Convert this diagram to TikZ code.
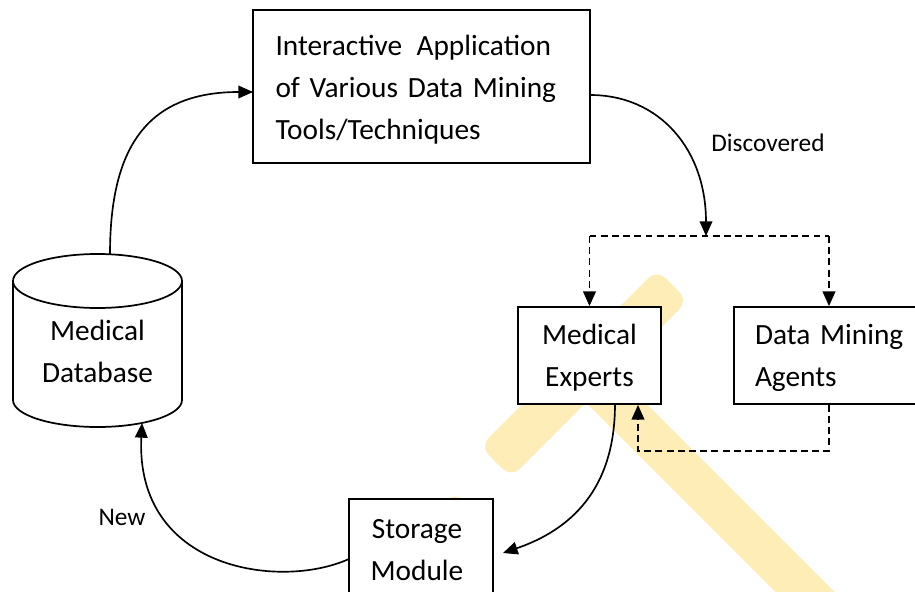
\documentclass[tikz,border=0pt]{standalone}
\usepackage{fontspec}
\setmainfont{Carlito}
\usetikzlibrary{arrows.meta}
\definecolor{wm}{RGB}{255,237,184}
\newcommand{\boxfont}{\fontsize{22}{31.5}\selectfont\spaceskip=0.16em\relax}
\begin{document}
\begin{tikzpicture}[x=0.75pt,y=-0.75pt,
  box/.style={draw, line width=1.3pt, fill=white, inner sep=0pt},
  txt/.style={font=\boxfont, inner sep=0pt},
  tip/.style={-{Triangle[length=11pt,width=9.5pt]}},
  con/.style={line width=1.25pt},
  dsh/.style={con, dash pattern=on 5.2pt off 3.2pt},
  lbl/.style={font=\fontsize{19}{22}\selectfont, inner sep=0pt}]
\useasboundingbox (0,0) rectangle (915,592);
\clip (0,0) rectangle (915,592);
% watermark
\draw[wm, line width=31.5pt] (590,377) -- (900,687);
\node[fill=wm, rounded corners=9pt, minimum width=187.5pt, minimum height=33pt, inner sep=0pt, rotate=45] (wmhead) at (584,373.5) {};
\fill[wm] (455,510) circle[radius=10pt];
% cylinder
\draw[line width=1.3pt, fill=white] (13,281) -- (13,400) arc[start angle=180, end angle=0, x radius=84.5, y radius=27] -- (182,281);
\draw[line width=1.3pt] (97.5,281) ellipse[x radius=84.5, y radius=27];
\node[txt, align=center] (db) at (97.5,351) {Medical\\Database};
\coordinate (dbtop) at (110,254.3);
\coordinate (dbbot) at (142,423);
% boxes
\node[box, minimum width=252.75pt, minimum height=114.75pt] (app) at (421.5,86.5) {};
\node[txt, align=left, text width=219pt] (appt) at (421.5,90) {Interactive\kern3.5pt\ Application\\of Various Data Mining\\Tools/Techniques};
\node[box, minimum width=107.25pt, minimum height=72.75pt] (me) at (589.5,355.5) {};
\node[txt, align=center] (met) at (589.5,358) {Medical\\Experts};
\node[box, minimum width=147pt, minimum height=72.75pt] (dma) at (832,355.5) {};
\node[txt, align=left, text width=115.5pt] (dmat) at (832,358) {Data Mining\\Agents};
\node[box, minimum width=108pt, minimum height=75.75pt] (sm) at (421,549.5) {};
\node[txt, align=center] (smt) at (417,550) {Storage\\Module};
% labels
\node[lbl, anchor=west] (disc) at (711,143) {Discovered};
\node[lbl] (new) at (122,517) {New};
% coordinates
\coordinate (a1) at (253,92);
\coordinate (a2s) at (590,95);
\coordinate (j) at (706,236);
\coordinate (jl) at (589.5,236);
\coordinate (jr) at (829,236);
\coordinate (k1) at (829,451);
\coordinate (k2) at (638,451);
\coordinate (mes) at (615,404);
\coordinate (smin) at (503,553);
\coordinate (smw) at (349,559);
% connectors
\draw[con,tip] (dbtop) .. controls (110,150) and (145,92) .. (a1);
\draw[con,tip] (a2s) .. controls (660,95) and (706,150) .. (j);
\draw[dsh] (jl) -- (jr);
\draw[dsh,tip] (jl) -- (me.north);
\draw[dsh,tip] (jr) -- (jr |- dma.north);
\draw[dsh,tip] (jr |- dma.south) -- (k1) -- (k2) -- (k2 |- me.south);
\draw[con,tip] (mes) .. controls (615,490) and (570,530) .. (smin);
\draw[con,tip] (smw) .. controls (280,590) and (135,570) .. (dbbot);
\end{tikzpicture}
\end{document}
